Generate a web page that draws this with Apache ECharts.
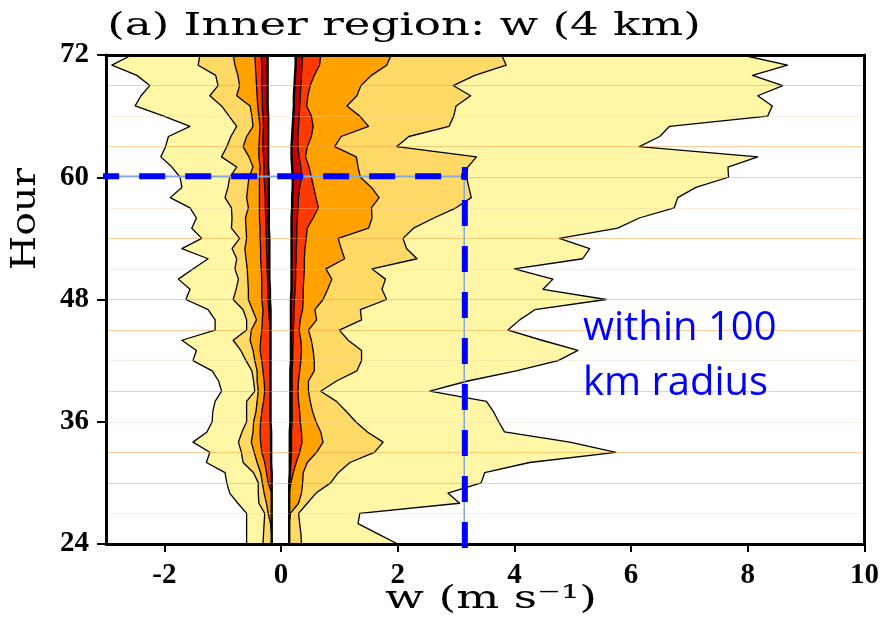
<!DOCTYPE html>
<html><head><meta charset="utf-8">
<script src="https://cdn.jsdelivr.net/npm/echarts@6/dist/echarts.min.js"></script>
<style>html,body{margin:0;padding:0;background:#fff}#c{width:882px;height:621px}</style>
</head><body><div id="c"></div>
<script>
// ---- data (hours 24..72, one value per hour) ----
const HOURS = [24,25,26,27,28,29,30,31,32,33,34,35,36,37,38,39,40,41,42,43,44,45,46,47,48,49,50,51,52,53,54,55,56,57,58,59,60,61,62,63,64,65,66,67,68,69,70,71,72];
// outermost contour (white | light yellow)
const L1 = [-0.59,-0.59,-0.59,-0.59,-0.74,-0.88,-0.93,-0.96,-1.28,-1.22,-1.51,-1.27,-1.18,-1.17,-1.13,-1.02,-1.07,-1.18,-1.51,-1.45,-1.70,-1.13,-1.13,-1.25,-1.63,-1.56,-1.76,-1.51,-1.25,-1.70,-1.36,-1.53,-1.45,-1.56,-1.90,-1.70,-1.73,-1.87,-2.06,-1.98,-1.93,-1.56,-2.01,-2.50,-2.40,-2.25,-2.47,-2.90,-2.56];
const R1 = [2.00,1.66,1.32,1.35,3.06,2.86,3.43,3.49,4.26,5.74,4.95,3.83,3.73,3.64,3.52,2.55,3.20,4.03,4.75,5.09,4.47,3.89,4.09,4.35,5.57,4.49,4.66,4.00,5.17,5.29,4.77,5.77,6.14,6.74,6.80,7.11,7.67,7.66,8.17,6.14,6.49,6.66,8.34,8.42,8.17,8.60,8.08,8.68,7.90];
// light yellow | medium yellow
const L2 = [-0.31,-0.30,-0.29,-0.28,-0.38,-0.39,-0.39,-0.47,-0.65,-0.68,-0.73,-0.67,-0.59,-0.59,-0.59,-0.45,-0.47,-0.50,-0.60,-0.69,-0.82,-0.59,-0.59,-0.65,-0.82,-0.77,-0.73,-0.79,-0.76,-0.84,-0.71,-0.85,-0.84,-0.85,-0.96,-0.91,-0.88,-0.76,-1.02,-0.93,-0.86,-0.76,-0.89,-1.02,-1.22,-1.08,-1.12,-1.42,-1.39];
const R2 = [0.35,0.34,0.32,0.30,0.45,0.60,0.85,0.98,1.18,1.60,1.75,1.48,1.28,1.12,0.95,0.68,0.95,1.30,1.38,1.38,1.15,1.00,1.38,1.36,1.81,1.73,1.79,1.56,2.33,2.15,2.09,2.27,2.62,3.00,3.26,3.22,3.18,3.20,3.35,1.98,2.19,2.88,2.96,3.00,3.25,2.95,3.32,3.86,3.78];
// medium yellow | orange
const L3 = [-0.16,-0.16,-0.18,-0.22,-0.25,-0.29,-0.32,-0.35,-0.41,-0.46,-0.51,-0.48,-0.47,-0.43,-0.41,-0.39,-0.41,-0.41,-0.45,-0.48,-0.53,-0.51,-0.42,-0.49,-0.56,-0.56,-0.57,-0.58,-0.60,-0.62,-0.59,-0.60,-0.61,-0.56,-0.59,-0.57,-0.55,-0.48,-0.55,-0.65,-0.59,-0.48,-0.50,-0.53,-0.76,-0.71,-0.74,-0.79,-0.82];
const R3 = [0.14,0.14,0.14,0.16,0.30,0.35,0.37,0.38,0.45,0.61,0.72,0.68,0.60,0.54,0.50,0.47,0.47,0.57,0.57,0.55,0.52,0.47,0.61,0.58,0.72,0.80,0.87,0.77,1.09,1.03,0.98,1.50,1.56,1.55,1.68,1.55,1.36,1.32,1.29,0.92,1.03,1.50,1.35,1.13,1.30,1.37,1.55,1.81,1.89];
// orange | red-orange
const L4 = [-0.16,-0.16,-0.16,-0.16,-0.16,-0.16,-0.22,-0.25,-0.28,-0.33,-0.35,-0.36,-0.35,-0.33,-0.30,-0.28,-0.29,-0.31,-0.33,-0.36,-0.35,-0.33,-0.32,-0.31,-0.33,-0.33,-0.33,-0.34,-0.35,-0.35,-0.36,-0.36,-0.37,-0.37,-0.37,-0.37,-0.37,-0.36,-0.38,-0.38,-0.37,-0.36,-0.38,-0.40,-0.41,-0.42,-0.43,-0.44,-0.45];
const R4 = [0.14,0.14,0.14,0.14,0.14,0.14,0.17,0.21,0.26,0.32,0.36,0.35,0.33,0.32,0.30,0.29,0.30,0.32,0.34,0.35,0.34,0.31,0.33,0.37,0.38,0.38,0.39,0.40,0.40,0.41,0.43,0.45,0.55,0.64,0.60,0.56,0.52,0.48,0.42,0.45,0.52,0.55,0.52,0.44,0.46,0.50,0.57,0.66,0.68];
// red-orange | dark red
const L5 = [-0.16,-0.16,-0.16,-0.16,-0.16,-0.16,-0.16,-0.16,-0.17,-0.17,-0.17,-0.17,-0.18,-0.18,-0.18,-0.18,-0.18,-0.18,-0.18,-0.18,-0.18,-0.19,-0.20,-0.21,-0.22,-0.23,-0.23,-0.24,-0.24,-0.25,-0.25,-0.26,-0.26,-0.27,-0.27,-0.28,-0.29,-0.29,-0.30,-0.31,-0.31,-0.30,-0.31,-0.32,-0.32,-0.33,-0.33,-0.33,-0.34];
const R5 = [0.14,0.14,0.14,0.14,0.14,0.14,0.14,0.16,0.17,0.18,0.18,0.18,0.19,0.19,0.19,0.19,0.19,0.19,0.20,0.20,0.21,0.21,0.22,0.22,0.23,0.24,0.25,0.25,0.26,0.26,0.27,0.27,0.28,0.29,0.30,0.32,0.35,0.34,0.31,0.29,0.29,0.30,0.31,0.32,0.33,0.34,0.35,0.36,0.37];
// central gap edges
const CL = [-0.16,-0.16,-0.16,-0.16,-0.16,-0.16,-0.16,-0.16,-0.17,-0.17,-0.17,-0.17,-0.18,-0.18,-0.18,-0.18,-0.18,-0.18,-0.18,-0.18,-0.18,-0.18,-0.18,-0.18,-0.19,-0.19,-0.20,-0.20,-0.20,-0.20,-0.20,-0.21,-0.21,-0.21,-0.21,-0.21,-0.21,-0.22,-0.22,-0.22,-0.22,-0.22,-0.22,-0.23,-0.23,-0.23,-0.23,-0.23,-0.23];
const CR = [0.14,0.14,0.14,0.14,0.14,0.14,0.14,0.15,0.15,0.15,0.15,0.15,0.16,0.16,0.16,0.16,0.16,0.16,0.17,0.17,0.17,0.17,0.17,0.17,0.17,0.18,0.18,0.18,0.18,0.18,0.18,0.18,0.18,0.19,0.19,0.20,0.20,0.19,0.18,0.18,0.19,0.20,0.21,0.22,0.22,0.23,0.24,0.25,0.25];

const X_TICKS = [-2,0,2,4,6,8,10];
const Y_TICKS = [24,36,48,60,72];
const GRID_HOURS = [27,30,33,36,39,42,45,48,51,54,57,60,63,66,69];
const GUIDE_H = [[-3.22,60.1],[3.13,60.1]];
const GUIDE_V = [[3.15,61.0],[3.15,22.5]];
const GUIDE_THIN = [[-3.22,60.1],[3.14,60.1],[3.14,24]];

const chart = echarts.init(document.getElementById('c'), null, {renderer:'canvas'});

function band(left, right, color, lw, z){
  return {
    type:'custom', coordinateSystem:'cartesian2d', silent:true, z:z,
    data:[[0,48]],
    renderItem:function(params, api){
      const lp=[], rp=[];
      for(let i=0;i<HOURS.length;i++){ lp.push(api.coord([left[i],HOURS[i]])); rp.push(api.coord([right[i],HOURS[i]])); }
      const poly = lp.concat(rp.slice().reverse());
      return {type:'group', children:[
        {type:'polygon', shape:{points:poly}, style:{fill:color, stroke:null, lineWidth:0}},
        {type:'polyline', shape:{points:lp}, style:{fill:null, stroke:'#000', lineWidth:lw, lineJoin:'round'}},
        {type:'polyline', shape:{points:rp}, style:{fill:null, stroke:'#000', lineWidth:lw, lineJoin:'round'}}
      ]};
    }
  };
}
const gridColors = ['rgba(240,205,160,0.35)','rgba(246,160,60,0.5)','rgba(246,160,60,0.5)','rgba(240,205,160,0.35)','rgba(246,160,60,0.5)'];
const serif = 'Liberation Serif';
const axisLineStyle = {color:'#000', width:3};
const option = {
  animation:false,
  grid:{left:106, right:17, top:55, bottom:77, containLabel:false},
  xAxis:[
    {type:'value', min:-3, max:10, position:'bottom', z:6,
     axisLine:{show:true, onZero:false, lineStyle:axisLineStyle},
     axisTick:{show:true, customValues:X_TICKS, length:8, lineStyle:{color:'#000', width:2}},
     axisLabel:{customValues:X_TICKS, margin:17, fontFamily:serif, fontWeight:'bold', fontSize:29, color:'#000'},
     splitLine:{show:false}},
    {type:'value', min:-3, max:10, position:'top', z:6,
     axisLine:{show:true, onZero:false, lineStyle:axisLineStyle},
     axisTick:{show:false}, axisLabel:{show:false}, splitLine:{show:false}}
  ],
  yAxis:[
    {type:'value', min:24, max:72, interval:12, position:'left', z:6,
     axisLine:{show:true, onZero:false, lineStyle:axisLineStyle},
     axisTick:{show:true, customValues:Y_TICKS, length:9, lineStyle:{color:'#000', width:2}},
     axisLabel:{customValues:Y_TICKS, margin:17, fontFamily:serif, fontWeight:'bold', fontSize:29, color:'#000'},
     splitLine:{show:false}},
    {type:'value', min:24, max:72, position:'right', z:6,
     axisLine:{show:true, onZero:false, lineStyle:axisLineStyle},
     axisTick:{show:false}, axisLabel:{show:false}, splitLine:{show:false}}
  ],
  series:[
    band(L1,R1,'#FFF6A6',1.3,2),
    band(L2,R2,'#FFD966',1.3,2),
    band(L3,R3,'#FFA200',1.3,2),
    band(L4,R4,'#FF3A00',1.3,2),
    band(L5,R5,'#C80000',1.3,2),
    band(CL,CR,'#FFFFFF',2.4,2),
    {type:'line', data:[], z:4, silent:true,
     markLine:{silent:true, symbol:'none', label:{show:false}, animation:false,
       data:GRID_HOURS.map((h,i)=>({yAxis:h, lineStyle:{color:gridColors[i%5], width:1, type:'solid'}}))}},
    {type:'line', data:GUIDE_THIN, clip:false, symbol:'none', silent:true, z:9,
     lineStyle:{color:'#86a8d8', width:1.5}},
    {type:'line', data:GUIDE_H, clip:false, symbol:'none', silent:true, z:10,
     lineStyle:{color:'#0000FF', width:6, type:[26,20]}},
    {type:'line', data:GUIDE_V, clip:false, symbol:'none', silent:true, z:10,
     lineStyle:{color:'#0000FF', width:6, type:[26,20], dashOffset:13}}
  ],
  graphic:[
    {type:'text', x:404, y:27, scaleX:1.41, z:20, silent:true,
     style:{text:'(a) Inner region: w (4 km)', font:'32px "DejaVu Serif"', fill:'#000', align:'center', verticalAlign:'middle'}},
    {type:'text', x:26, y:219, rotation:Math.PI/2, scaleX:1.16, z:20, silent:true,
     style:{text:'Hour', font:'34px "DejaVu Serif"', fill:'#000', align:'center', verticalAlign:'middle'}},
    {type:'text', x:491, y:600, scaleX:1.42, z:20, silent:true,
     style:{text:'w (m s\u207B\u00B9)', font:'32px "DejaVu Serif"', fill:'#000', align:'center', verticalAlign:'middle'}},
    {type:'text', x:583, y:301, z:20, silent:true,
     style:{text:'within 100\nkm radius', font:'40px "Open Sans"', lineHeight:55, fill:'#0000FF', align:'left', verticalAlign:'top'}}
  ]
};
chart.setOption(option);
</script></body></html>
